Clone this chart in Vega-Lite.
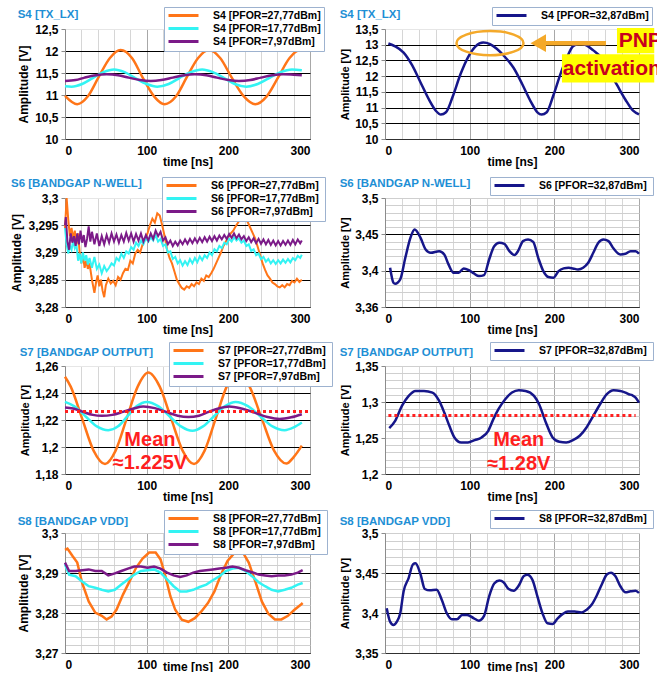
{
"$schema":"https://vega.github.io/schema/vega-lite/v6.json",
"background":"white",
"padding":{"left":10,"top":6,"right":0,"bottom":0},
"config":{
 "font":"Liberation Sans",
 "view":{"stroke":null},
 "axis":{"labelFont":"Liberation Sans","labelFontWeight":"bold","labelFontSize":12,"labelColor":"#000000","titleFont":"Liberation Sans","titleFontWeight":"bold","titleFontSize":12,"titleColor":"#000000","gridWidth":1,"domainColor":"#8c8c8c","tickColor":"#8c8c8c","labelOverlap":false},
 "axisY":{"tickSize":4,"labelPadding":3,"titlePadding":4},
 "legend":{"fillColor":"#ffffff","strokeColor":"#9db2cf","padding":3,"symbolType":"M-3.75,0L3.75,0","symbolSize":64,"symbolStrokeWidth":3,"symbolOffset":11,"labelOffset":24,"labelFont":"Liberation Sans","labelFontSize":10.5,"labelFontWeight":"bold","labelColor":"#000000","rowPadding":0,"labelLimit":300},
 "title":{"font":"Liberation Sans","fontSize":11.5,"fontWeight":"bold","color":"#1e8fd5","anchor":"start","frame":"bounds"}
},
"datasets":{
"p1":[
{"t":0,"v":10.98,"s":"27,77"},{"t":15,"v":10.79,"s":"27,77"},{"t":28,"v":10.97,"s":"27,77"},{"t":41,"v":11.40,"s":"27,77"},{"t":55,"v":11.84,"s":"27,77"},{"t":68,"v":12.02,"s":"27,77"},{"t":82,"v":11.84,"s":"27,77"},{"t":95,"v":11.40,"s":"27,77"},{"t":109,"v":10.97,"s":"27,77"},{"t":122,"v":10.79,"s":"27,77"},{"t":136,"v":10.97,"s":"27,77"},{"t":149,"v":11.40,"s":"27,77"},{"t":163,"v":11.84,"s":"27,77"},{"t":176,"v":12.02,"s":"27,77"},{"t":190,"v":11.84,"s":"27,77"},{"t":204,"v":11.40,"s":"27,77"},{"t":219,"v":10.97,"s":"27,77"},{"t":233,"v":10.79,"s":"27,77"},{"t":247,"v":10.97,"s":"27,77"},{"t":261,"v":11.40,"s":"27,77"},{"t":275,"v":11.84,"s":"27,77"},{"t":288,"v":12.02,"s":"27,77"},{"t":290,"v":12.02,"s":"27,77"},
{"t":0,"v":11.20,"s":"17,77"},{"t":8,"v":11.19,"s":"17,77"},{"t":21,"v":11.25,"s":"17,77"},{"t":34,"v":11.385,"s":"17,77"},{"t":47,"v":11.52,"s":"17,77"},{"t":60,"v":11.58,"s":"17,77"},{"t":73,"v":11.52,"s":"17,77"},{"t":86,"v":11.385,"s":"17,77"},{"t":100,"v":11.25,"s":"17,77"},{"t":113,"v":11.19,"s":"17,77"},{"t":127,"v":11.25,"s":"17,77"},{"t":140,"v":11.385,"s":"17,77"},{"t":154,"v":11.52,"s":"17,77"},{"t":168,"v":11.58,"s":"17,77"},{"t":181,"v":11.52,"s":"17,77"},{"t":195,"v":11.385,"s":"17,77"},{"t":208,"v":11.25,"s":"17,77"},{"t":222,"v":11.19,"s":"17,77"},{"t":236,"v":11.25,"s":"17,77"},{"t":250,"v":11.385,"s":"17,77"},{"t":264,"v":11.52,"s":"17,77"},{"t":278,"v":11.58,"s":"17,77"},{"t":290,"v":11.56,"s":"17,77"},
{"t":0,"v":11.32,"s":"7,97"},{"t":13,"v":11.34,"s":"7,97"},{"t":24,"v":11.395,"s":"7,97"},{"t":38,"v":11.45,"s":"7,97"},{"t":51,"v":11.47,"s":"7,97"},{"t":65,"v":11.45,"s":"7,97"},{"t":78,"v":11.395,"s":"7,97"},{"t":92,"v":11.34,"s":"7,97"},{"t":105,"v":11.32,"s":"7,97"},{"t":118,"v":11.34,"s":"7,97"},{"t":132,"v":11.395,"s":"7,97"},{"t":146,"v":11.45,"s":"7,97"},{"t":159,"v":11.47,"s":"7,97"},{"t":173,"v":11.45,"s":"7,97"},{"t":186,"v":11.395,"s":"7,97"},{"t":200,"v":11.34,"s":"7,97"},{"t":213,"v":11.32,"s":"7,97"},{"t":227,"v":11.34,"s":"7,97"},{"t":240,"v":11.395,"s":"7,97"},{"t":254,"v":11.45,"s":"7,97"},{"t":267,"v":11.47,"s":"7,97"},{"t":280,"v":11.46,"s":"7,97"},{"t":290,"v":11.45,"s":"7,97"}
],
"p2":[
{"t":4,"v":13.04,"s":"32,87"},{"t":12,"v":12.95,"s":"32,87"},{"t":22,"v":12.75,"s":"32,87"},{"t":32,"v":12.35,"s":"32,87"},{"t":42,"v":11.8,"s":"32,87"},{"t":52,"v":11.25,"s":"32,87"},{"t":60,"v":10.9,"s":"32,87"},{"t":66,"v":10.78,"s":"32,87"},{"t":72,"v":10.85,"s":"32,87"},{"t":80,"v":11.35,"s":"32,87"},{"t":89,"v":12.05,"s":"32,87"},{"t":98,"v":12.6,"s":"32,87"},{"t":107,"v":12.95,"s":"32,87"},{"t":116,"v":13.07,"s":"32,87"},{"t":124,"v":13.02,"s":"32,87"},{"t":132,"v":12.87,"s":"32,87"},{"t":142,"v":12.6,"s":"32,87"},{"t":152,"v":12.26,"s":"32,87"},{"t":162,"v":11.75,"s":"32,87"},{"t":172,"v":11.2,"s":"32,87"},{"t":180,"v":10.85,"s":"32,87"},{"t":185,"v":10.78,"s":"32,87"},{"t":191,"v":10.85,"s":"32,87"},{"t":199,"v":11.4,"s":"32,87"},{"t":207,"v":12.05,"s":"32,87"},{"t":215,"v":12.6,"s":"32,87"},{"t":222,"v":12.95,"s":"32,87"},{"t":230,"v":13.04,"s":"32,87"},{"t":238,"v":12.98,"s":"32,87"},{"t":246,"v":12.82,"s":"32,87"},{"t":255,"v":12.6,"s":"32,87"},{"t":264,"v":12.2,"s":"32,87"},{"t":274,"v":11.72,"s":"32,87"},{"t":284,"v":11.25,"s":"32,87"},{"t":293,"v":10.9,"s":"32,87"},{"t":300,"v":10.78,"s":"32,87"}
],
"p3":[
{"t":0,"v":3.2945,"s":"27,77"},{"t":2,"v":3.3003,"s":"27,77"},{"t":4,"v":3.2960,"s":"27,77"},{"t":6,"v":3.2930,"s":"27,77"},{"t":8,"v":3.2945,"s":"27,77"},{"t":10,"v":3.2925,"s":"27,77"},{"t":12,"v":3.2940,"s":"27,77"},{"t":14,"v":3.2915,"s":"27,77"},{"t":16,"v":3.2935,"s":"27,77"},{"t":18,"v":3.2900,"s":"27,77"},{"t":20,"v":3.2880,"s":"27,77"},{"t":22,"v":3.2895,"s":"27,77"},{"t":24,"v":3.2872,"s":"27,77"},{"t":26,"v":3.2885,"s":"27,77"},{"t":28,"v":3.2870,"s":"27,77"},{"t":30,"v":3.2880,"s":"27,77"},{"t":33,"v":3.2850,"s":"27,77"},{"t":36,"v":3.2826,"s":"27,77"},{"t":38,"v":3.2845,"s":"27,77"},{"t":40,"v":3.2858,"s":"27,77"},{"t":42,"v":3.2838,"s":"27,77"},{"t":44,"v":3.2850,"s":"27,77"},{"t":46,"v":3.2830,"s":"27,77"},{"t":48,"v":3.2818,"s":"27,77"},{"t":50,"v":3.2840,"s":"27,77"},{"t":53,"v":3.2852,"s":"27,77"},{"t":56,"v":3.2843,"s":"27,77"},{"t":59,"v":3.2848,"s":"27,77"},{"t":62,"v":3.2840,"s":"27,77"},{"t":65,"v":3.2855,"s":"27,77"},{"t":68,"v":3.2850,"s":"27,77"},{"t":71,"v":3.2862,"s":"27,77"},{"t":74,"v":3.2870,"s":"27,77"},{"t":77,"v":3.2868,"s":"27,77"},{"t":80,"v":3.2885,"s":"27,77"},{"t":83,"v":3.2880,"s":"27,77"},{"t":86,"v":3.2898,"s":"27,77"},{"t":89,"v":3.2905,"s":"27,77"},{"t":92,"v":3.2900,"s":"27,77"},{"t":95,"v":3.2915,"s":"27,77"},{"t":98,"v":3.2925,"s":"27,77"},{"t":101,"v":3.2935,"s":"27,77"},{"t":104,"v":3.2950,"s":"27,77"},{"t":107,"v":3.2962,"s":"27,77"},{"t":110,"v":3.2955,"s":"27,77"},{"t":113,"v":3.2972,"s":"27,77"},{"t":116,"v":3.2968,"s":"27,77"},{"t":119,"v":3.2950,"s":"27,77"},{"t":122,"v":3.2930,"s":"27,77"},{"t":125,"v":3.2905,"s":"27,77"},{"t":128,"v":3.2890,"s":"27,77"},{"t":131,"v":3.2880,"s":"27,77"},{"t":134,"v":3.2865,"s":"27,77"},{"t":137,"v":3.2850,"s":"27,77"},{"t":140,"v":3.2842,"s":"27,77"},{"t":143,"v":3.2835,"s":"27,77"},{"t":146,"v":3.2832,"s":"27,77"},{"t":149,"v":3.2838,"s":"27,77"},{"t":152,"v":3.2835,"s":"27,77"},{"t":155,"v":3.2842,"s":"27,77"},{"t":158,"v":3.2838,"s":"27,77"},{"t":161,"v":3.2845,"s":"27,77"},{"t":164,"v":3.2842,"s":"27,77"},{"t":167,"v":3.2852,"s":"27,77"},{"t":170,"v":3.2848,"s":"27,77"},{"t":173,"v":3.2858,"s":"27,77"},{"t":176,"v":3.2855,"s":"27,77"},{"t":179,"v":3.2862,"s":"27,77"},{"t":182,"v":3.2870,"s":"27,77"},{"t":185,"v":3.2880,"s":"27,77"},{"t":188,"v":3.2890,"s":"27,77"},{"t":191,"v":3.2900,"s":"27,77"},{"t":194,"v":3.2912,"s":"27,77"},{"t":197,"v":3.2920,"s":"27,77"},{"t":200,"v":3.2928,"s":"27,77"},{"t":203,"v":3.2935,"s":"27,77"},{"t":206,"v":3.2940,"s":"27,77"},{"t":209,"v":3.2948,"s":"27,77"},{"t":212,"v":3.2955,"s":"27,77"},{"t":215,"v":3.2962,"s":"27,77"},{"t":218,"v":3.2972,"s":"27,77"},{"t":221,"v":3.2962,"s":"27,77"},{"t":224,"v":3.2955,"s":"27,77"},{"t":227,"v":3.2945,"s":"27,77"},{"t":230,"v":3.2935,"s":"27,77"},{"t":233,"v":3.2925,"s":"27,77"},{"t":236,"v":3.2910,"s":"27,77"},{"t":239,"v":3.2895,"s":"27,77"},{"t":242,"v":3.2880,"s":"27,77"},{"t":245,"v":3.2868,"s":"27,77"},{"t":248,"v":3.2858,"s":"27,77"},{"t":251,"v":3.2852,"s":"27,77"},{"t":254,"v":3.2845,"s":"27,77"},{"t":257,"v":3.2842,"s":"27,77"},{"t":260,"v":3.2838,"s":"27,77"},{"t":263,"v":3.2836,"s":"27,77"},{"t":266,"v":3.2840,"s":"27,77"},{"t":269,"v":3.2836,"s":"27,77"},{"t":272,"v":3.2842,"s":"27,77"},{"t":275,"v":3.2840,"s":"27,77"},{"t":278,"v":3.2848,"s":"27,77"},{"t":281,"v":3.2845,"s":"27,77"},{"t":284,"v":3.2852,"s":"27,77"},{"t":287,"v":3.2846,"s":"27,77"},{"t":290,"v":3.2850,"s":"27,77"},
{"t":0,"v":3.2945,"s":"17,77"},{"t":2,"v":3.2915,"s":"17,77"},{"t":4,"v":3.2898,"s":"17,77"},{"t":6,"v":3.2912,"s":"17,77"},{"t":8,"v":3.2905,"s":"17,77"},{"t":10,"v":3.2922,"s":"17,77"},{"t":12,"v":3.2908,"s":"17,77"},{"t":14,"v":3.2915,"s":"17,77"},{"t":16,"v":3.2885,"s":"17,77"},{"t":18,"v":3.2898,"s":"17,77"},{"t":20,"v":3.2880,"s":"17,77"},{"t":22,"v":3.2900,"s":"17,77"},{"t":24,"v":3.2885,"s":"17,77"},{"t":26,"v":3.2895,"s":"17,77"},{"t":28,"v":3.2878,"s":"17,77"},{"t":30,"v":3.2890,"s":"17,77"},{"t":33,"v":3.2872,"s":"17,77"},{"t":36,"v":3.2892,"s":"17,77"},{"t":39,"v":3.2870,"s":"17,77"},{"t":42,"v":3.2878,"s":"17,77"},{"t":45,"v":3.2862,"s":"17,77"},{"t":48,"v":3.2875,"s":"17,77"},{"t":51,"v":3.2866,"s":"17,77"},{"t":54,"v":3.2872,"s":"17,77"},{"t":57,"v":3.2880,"s":"17,77"},{"t":60,"v":3.2876,"s":"17,77"},{"t":63,"v":3.2890,"s":"17,77"},{"t":66,"v":3.2885,"s":"17,77"},{"t":69,"v":3.2898,"s":"17,77"},{"t":72,"v":3.2890,"s":"17,77"},{"t":75,"v":3.2902,"s":"17,77"},{"t":78,"v":3.2898,"s":"17,77"},{"t":81,"v":3.2910,"s":"17,77"},{"t":84,"v":3.2905,"s":"17,77"},{"t":87,"v":3.2918,"s":"17,77"},{"t":90,"v":3.2912,"s":"17,77"},{"t":93,"v":3.2922,"s":"17,77"},{"t":96,"v":3.2915,"s":"17,77"},{"t":99,"v":3.2926,"s":"17,77"},{"t":102,"v":3.2920,"s":"17,77"},{"t":105,"v":3.2928,"s":"17,77"},{"t":108,"v":3.2922,"s":"17,77"},{"t":111,"v":3.2932,"s":"17,77"},{"t":114,"v":3.2920,"s":"17,77"},{"t":117,"v":3.2925,"s":"17,77"},{"t":120,"v":3.2912,"s":"17,77"},{"t":123,"v":3.2915,"s":"17,77"},{"t":126,"v":3.2900,"s":"17,77"},{"t":129,"v":3.2902,"s":"17,77"},{"t":132,"v":3.2888,"s":"17,77"},{"t":135,"v":3.2892,"s":"17,77"},{"t":138,"v":3.2880,"s":"17,77"},{"t":141,"v":3.2886,"s":"17,77"},{"t":144,"v":3.2876,"s":"17,77"},{"t":147,"v":3.2884,"s":"17,77"},{"t":150,"v":3.2877,"s":"17,77"},{"t":153,"v":3.2888,"s":"17,77"},{"t":156,"v":3.2880,"s":"17,77"},{"t":159,"v":3.2890,"s":"17,77"},{"t":162,"v":3.2882,"s":"17,77"},{"t":165,"v":3.2893,"s":"17,77"},{"t":168,"v":3.2886,"s":"17,77"},{"t":171,"v":3.2895,"s":"17,77"},{"t":174,"v":3.2890,"s":"17,77"},{"t":177,"v":3.2900,"s":"17,77"},{"t":180,"v":3.2895,"s":"17,77"},{"t":183,"v":3.2906,"s":"17,77"},{"t":186,"v":3.2902,"s":"17,77"},{"t":189,"v":3.2912,"s":"17,77"},{"t":192,"v":3.2908,"s":"17,77"},{"t":195,"v":3.2918,"s":"17,77"},{"t":198,"v":3.2915,"s":"17,77"},{"t":201,"v":3.2925,"s":"17,77"},{"t":204,"v":3.2920,"s":"17,77"},{"t":207,"v":3.2928,"s":"17,77"},{"t":210,"v":3.2922,"s":"17,77"},{"t":213,"v":3.2926,"s":"17,77"},{"t":216,"v":3.2918,"s":"17,77"},{"t":219,"v":3.2922,"s":"17,77"},{"t":222,"v":3.2912,"s":"17,77"},{"t":225,"v":3.2915,"s":"17,77"},{"t":228,"v":3.2903,"s":"17,77"},{"t":231,"v":3.2906,"s":"17,77"},{"t":234,"v":3.2895,"s":"17,77"},{"t":237,"v":3.2898,"s":"17,77"},{"t":240,"v":3.2888,"s":"17,77"},{"t":243,"v":3.2892,"s":"17,77"},{"t":246,"v":3.2883,"s":"17,77"},{"t":249,"v":3.2888,"s":"17,77"},{"t":252,"v":3.2880,"s":"17,77"},{"t":255,"v":3.2886,"s":"17,77"},{"t":258,"v":3.2879,"s":"17,77"},{"t":261,"v":3.2886,"s":"17,77"},{"t":264,"v":3.2880,"s":"17,77"},{"t":267,"v":3.2887,"s":"17,77"},{"t":270,"v":3.2881,"s":"17,77"},{"t":273,"v":3.2888,"s":"17,77"},{"t":276,"v":3.2882,"s":"17,77"},{"t":279,"v":3.2890,"s":"17,77"},{"t":282,"v":3.2886,"s":"17,77"},{"t":285,"v":3.2894,"s":"17,77"},{"t":288,"v":3.2890,"s":"17,77"},{"t":290,"v":3.2896,"s":"17,77"},
{"t":0,"v":3.2950,"s":"7,97"},{"t":1,"v":3.2965,"s":"7,97"},{"t":3,"v":3.2920,"s":"7,97"},{"t":5,"v":3.2905,"s":"7,97"},{"t":7,"v":3.2935,"s":"7,97"},{"t":9,"v":3.2918,"s":"7,97"},{"t":11,"v":3.2930,"s":"7,97"},{"t":13,"v":3.2912,"s":"7,97"},{"t":15,"v":3.2935,"s":"7,97"},{"t":17,"v":3.2915,"s":"7,97"},{"t":19,"v":3.2940,"s":"7,97"},{"t":21,"v":3.2918,"s":"7,97"},{"t":23,"v":3.2932,"s":"7,97"},{"t":25,"v":3.2910,"s":"7,97"},{"t":27,"v":3.2925,"s":"7,97"},{"t":29,"v":3.2948,"s":"7,97"},{"t":31,"v":3.2920,"s":"7,97"},{"t":33,"v":3.2938,"s":"7,97"},{"t":36,"v":3.2915,"s":"7,97"},{"t":39,"v":3.2935,"s":"7,97"},{"t":42,"v":3.2912,"s":"7,97"},{"t":45,"v":3.2930,"s":"7,97"},{"t":48,"v":3.2915,"s":"7,97"},{"t":51,"v":3.2932,"s":"7,97"},{"t":54,"v":3.2918,"s":"7,97"},{"t":57,"v":3.2935,"s":"7,97"},{"t":60,"v":3.2920,"s":"7,97"},{"t":63,"v":3.2933,"s":"7,97"},{"t":66,"v":3.2918,"s":"7,97"},{"t":69,"v":3.2932,"s":"7,97"},{"t":72,"v":3.2920,"s":"7,97"},{"t":75,"v":3.2936,"s":"7,97"},{"t":78,"v":3.2922,"s":"7,97"},{"t":81,"v":3.2935,"s":"7,97"},{"t":84,"v":3.2920,"s":"7,97"},{"t":87,"v":3.2934,"s":"7,97"},{"t":90,"v":3.2922,"s":"7,97"},{"t":93,"v":3.2935,"s":"7,97"},{"t":96,"v":3.2920,"s":"7,97"},{"t":99,"v":3.2932,"s":"7,97"},{"t":102,"v":3.2922,"s":"7,97"},{"t":105,"v":3.2935,"s":"7,97"},{"t":108,"v":3.2925,"s":"7,97"},{"t":111,"v":3.2940,"s":"7,97"},{"t":114,"v":3.2930,"s":"7,97"},{"t":117,"v":3.2938,"s":"7,97"},{"t":120,"v":3.2922,"s":"7,97"},{"t":123,"v":3.2928,"s":"7,97"},{"t":126,"v":3.2915,"s":"7,97"},{"t":129,"v":3.2922,"s":"7,97"},{"t":132,"v":3.2912,"s":"7,97"},{"t":135,"v":3.2920,"s":"7,97"},{"t":138,"v":3.2913,"s":"7,97"},{"t":141,"v":3.2922,"s":"7,97"},{"t":144,"v":3.2915,"s":"7,97"},{"t":147,"v":3.2924,"s":"7,97"},{"t":150,"v":3.2916,"s":"7,97"},{"t":153,"v":3.2925,"s":"7,97"},{"t":156,"v":3.2917,"s":"7,97"},{"t":159,"v":3.2926,"s":"7,97"},{"t":162,"v":3.2918,"s":"7,97"},{"t":165,"v":3.2927,"s":"7,97"},{"t":168,"v":3.2919,"s":"7,97"},{"t":171,"v":3.2928,"s":"7,97"},{"t":174,"v":3.2920,"s":"7,97"},{"t":177,"v":3.2929,"s":"7,97"},{"t":180,"v":3.2921,"s":"7,97"},{"t":183,"v":3.2930,"s":"7,97"},{"t":186,"v":3.2922,"s":"7,97"},{"t":189,"v":3.2931,"s":"7,97"},{"t":192,"v":3.2924,"s":"7,97"},{"t":195,"v":3.2932,"s":"7,97"},{"t":198,"v":3.2925,"s":"7,97"},{"t":201,"v":3.2934,"s":"7,97"},{"t":204,"v":3.2927,"s":"7,97"},{"t":207,"v":3.2935,"s":"7,97"},{"t":210,"v":3.2926,"s":"7,97"},{"t":213,"v":3.2933,"s":"7,97"},{"t":216,"v":3.2924,"s":"7,97"},{"t":219,"v":3.2930,"s":"7,97"},{"t":222,"v":3.2921,"s":"7,97"},{"t":225,"v":3.2928,"s":"7,97"},{"t":228,"v":3.2919,"s":"7,97"},{"t":231,"v":3.2926,"s":"7,97"},{"t":234,"v":3.2917,"s":"7,97"},{"t":237,"v":3.2925,"s":"7,97"},{"t":240,"v":3.2916,"s":"7,97"},{"t":243,"v":3.2924,"s":"7,97"},{"t":246,"v":3.2915,"s":"7,97"},{"t":249,"v":3.2923,"s":"7,97"},{"t":252,"v":3.2914,"s":"7,97"},{"t":255,"v":3.2922,"s":"7,97"},{"t":258,"v":3.2913,"s":"7,97"},{"t":261,"v":3.2921,"s":"7,97"},{"t":264,"v":3.2913,"s":"7,97"},{"t":267,"v":3.2921,"s":"7,97"},{"t":270,"v":3.2914,"s":"7,97"},{"t":273,"v":3.2922,"s":"7,97"},{"t":276,"v":3.2914,"s":"7,97"},{"t":279,"v":3.2923,"s":"7,97"},{"t":282,"v":3.2915,"s":"7,97"},{"t":285,"v":3.2924,"s":"7,97"},{"t":288,"v":3.2917,"s":"7,97"},{"t":290,"v":3.2922,"s":"7,97"}
],
"p4":[
{"t":6,"v":3.404,"s":"32,87"},{"t":10,"v":3.3834,"s":"32,87"},{"t":12,"v":3.382,"s":"32,87"},{"t":18,"v":3.388,"s":"32,87"},{"t":24,"v":3.4177,"s":"32,87"},{"t":30,"v":3.4451,"s":"32,87"},{"t":35,"v":3.4566,"s":"32,87"},{"t":42,"v":3.4451,"s":"32,87"},{"t":48,"v":3.4291,"s":"32,87"},{"t":54,"v":3.4246,"s":"32,87"},{"t":64,"v":3.4268,"s":"32,87"},{"t":70,"v":3.4223,"s":"32,87"},{"t":75,"v":3.4086,"s":"32,87"},{"t":81,"v":3.3971,"s":"32,87"},{"t":87,"v":3.3971,"s":"32,87"},{"t":93,"v":3.4031,"s":"32,87"},{"t":99,"v":3.4008,"s":"32,87"},{"t":105,"v":3.3962,"s":"32,87"},{"t":111,"v":3.3925,"s":"32,87"},{"t":117,"v":3.3939,"s":"32,87"},{"t":123,"v":3.4154,"s":"32,87"},{"t":129,"v":3.4337,"s":"32,87"},{"t":135,"v":3.4383,"s":"32,87"},{"t":141,"v":3.4369,"s":"32,87"},{"t":147,"v":3.4268,"s":"32,87"},{"t":153,"v":3.4214,"s":"32,87"},{"t":157,"v":3.4268,"s":"32,87"},{"t":163,"v":3.4406,"s":"32,87"},{"t":169,"v":3.4428,"s":"32,87"},{"t":175,"v":3.4396,"s":"32,87"},{"t":181,"v":3.4177,"s":"32,87"},{"t":187,"v":3.3994,"s":"32,87"},{"t":193,"v":3.3912,"s":"32,87"},{"t":199,"v":3.3903,"s":"32,87"},{"t":205,"v":3.3994,"s":"32,87"},{"t":211,"v":3.4031,"s":"32,87"},{"t":217,"v":3.404,"s":"32,87"},{"t":222,"v":3.4031,"s":"32,87"},{"t":228,"v":3.4017,"s":"32,87"},{"t":234,"v":3.404,"s":"32,87"},{"t":240,"v":3.4108,"s":"32,87"},{"t":246,"v":3.4246,"s":"32,87"},{"t":252,"v":3.4383,"s":"32,87"},{"t":258,"v":3.4428,"s":"32,87"},{"t":264,"v":3.4406,"s":"32,87"},{"t":270,"v":3.4305,"s":"32,87"},{"t":278,"v":3.4223,"s":"32,87"},{"t":284,"v":3.4232,"s":"32,87"},{"t":290,"v":3.4268,"s":"32,87"},{"t":296,"v":3.4268,"s":"32,87"},{"t":300,"v":3.4232,"s":"32,87"}
],
"p5":[
{"t":0,"v":1.252,"s":"27,77"},{"t":7,"v":1.2447,"s":"27,77"},{"t":21,"v":1.221,"s":"27,77"},{"t":35,"v":1.1973,"s":"27,77"},{"t":49,"v":1.1874,"s":"27,77"},{"t":62,"v":1.1973,"s":"27,77"},{"t":75.5,"v":1.221,"s":"27,77"},{"t":89,"v":1.2447,"s":"27,77"},{"t":102,"v":1.2551,"s":"27,77"},{"t":116,"v":1.2447,"s":"27,77"},{"t":130,"v":1.221,"s":"27,77"},{"t":144,"v":1.1973,"s":"27,77"},{"t":158,"v":1.1874,"s":"27,77"},{"t":171,"v":1.1973,"s":"27,77"},{"t":184.5,"v":1.221,"s":"27,77"},{"t":198,"v":1.2447,"s":"27,77"},{"t":211,"v":1.2551,"s":"27,77"},{"t":226,"v":1.2447,"s":"27,77"},{"t":241,"v":1.221,"s":"27,77"},{"t":256,"v":1.1973,"s":"27,77"},{"t":271,"v":1.1877,"s":"27,77"},{"t":280,"v":1.1925,"s":"27,77"},{"t":290,"v":1.201,"s":"27,77"},
{"t":0,"v":1.2334,"s":"17,77"},{"t":11,"v":1.2303,"s":"17,77"},{"t":25,"v":1.2228,"s":"17,77"},{"t":39,"v":1.2153,"s":"17,77"},{"t":53,"v":1.2125,"s":"17,77"},{"t":65,"v":1.2153,"s":"17,77"},{"t":76.5,"v":1.2228,"s":"17,77"},{"t":88,"v":1.2303,"s":"17,77"},{"t":100,"v":1.2334,"s":"17,77"},{"t":114,"v":1.2303,"s":"17,77"},{"t":128,"v":1.2228,"s":"17,77"},{"t":142,"v":1.2153,"s":"17,77"},{"t":156,"v":1.212,"s":"17,77"},{"t":169,"v":1.2153,"s":"17,77"},{"t":182.5,"v":1.2228,"s":"17,77"},{"t":196,"v":1.2303,"s":"17,77"},{"t":209,"v":1.2334,"s":"17,77"},{"t":224,"v":1.2303,"s":"17,77"},{"t":239,"v":1.2228,"s":"17,77"},{"t":254,"v":1.2153,"s":"17,77"},{"t":269,"v":1.2125,"s":"17,77"},{"t":280,"v":1.2145,"s":"17,77"},{"t":290,"v":1.2181,"s":"17,77"},
{"t":0,"v":1.2292,"s":"7,97"},{"t":10,"v":1.2285,"s":"7,97"},{"t":22,"v":1.226,"s":"7,97"},{"t":34,"v":1.2238,"s":"7,97"},{"t":45,"v":1.2231,"s":"7,97"},{"t":58,"v":1.2238,"s":"7,97"},{"t":71,"v":1.226,"s":"7,97"},{"t":84,"v":1.2285,"s":"7,97"},{"t":96,"v":1.23,"s":"7,97"},{"t":110,"v":1.2288,"s":"7,97"},{"t":124,"v":1.226,"s":"7,97"},{"t":138,"v":1.2232,"s":"7,97"},{"t":151,"v":1.2222,"s":"7,97"},{"t":164,"v":1.2232,"s":"7,97"},{"t":176,"v":1.226,"s":"7,97"},{"t":189,"v":1.2287,"s":"7,97"},{"t":201,"v":1.23,"s":"7,97"},{"t":216,"v":1.2285,"s":"7,97"},{"t":232,"v":1.2255,"s":"7,97"},{"t":248,"v":1.2222,"s":"7,97"},{"t":263,"v":1.2208,"s":"7,97"},{"t":277,"v":1.222,"s":"7,97"},{"t":290,"v":1.2243,"s":"7,97"}
],
"p6":[
{"t":5,"v":1.2637,"s":"32,87"},{"t":12,"v":1.2739,"s":"32,87"},{"t":20,"v":1.2946,"s":"32,87"},{"t":28,"v":1.3085,"s":"32,87"},{"t":36,"v":1.3154,"s":"32,87"},{"t":46,"v":1.3154,"s":"32,87"},{"t":56,"v":1.3131,"s":"32,87"},{"t":64,"v":1.3015,"s":"32,87"},{"t":70,"v":1.2854,"s":"32,87"},{"t":76,"v":1.2669,"s":"32,87"},{"t":82,"v":1.2508,"s":"32,87"},{"t":90,"v":1.2439,"s":"32,87"},{"t":98,"v":1.2439,"s":"32,87"},{"t":106,"v":1.2471,"s":"32,87"},{"t":114,"v":1.2508,"s":"32,87"},{"t":122,"v":1.26,"s":"32,87"},{"t":128,"v":1.2762,"s":"32,87"},{"t":134,"v":1.29,"s":"32,87"},{"t":142,"v":1.3039,"s":"32,87"},{"t":150,"v":1.3131,"s":"32,87"},{"t":158,"v":1.3163,"s":"32,87"},{"t":166,"v":1.3154,"s":"32,87"},{"t":176,"v":1.3085,"s":"32,87"},{"t":182,"v":1.2969,"s":"32,87"},{"t":190,"v":1.2715,"s":"32,87"},{"t":198,"v":1.2508,"s":"32,87"},{"t":206,"v":1.2448,"s":"32,87"},{"t":214,"v":1.2439,"s":"32,87"},{"t":222,"v":1.2471,"s":"32,87"},{"t":230,"v":1.2531,"s":"32,87"},{"t":238,"v":1.2646,"s":"32,87"},{"t":246,"v":1.2808,"s":"32,87"},{"t":254,"v":1.2969,"s":"32,87"},{"t":262,"v":1.3108,"s":"32,87"},{"t":270,"v":1.3163,"s":"32,87"},{"t":278,"v":1.3154,"s":"32,87"},{"t":284,"v":1.3131,"s":"32,87"},{"t":288,"v":1.3108,"s":"32,87"},{"t":292,"v":1.3094,"s":"32,87"},{"t":296,"v":1.3062,"s":"32,87"},{"t":300,"v":1.2992,"s":"32,87"}
],
"p7":[
{"t":0,"v":3.2958,"s":"27,77"},{"t":3,"v":3.2961,"s":"27,77"},{"t":9,"v":3.2943,"s":"27,77"},{"t":15,"v":3.2926,"s":"27,77"},{"t":21,"v":3.2875,"s":"27,77"},{"t":29,"v":3.2829,"s":"27,77"},{"t":37,"v":3.2801,"s":"27,77"},{"t":45,"v":3.2793,"s":"27,77"},{"t":51,"v":3.2784,"s":"27,77"},{"t":57,"v":3.2791,"s":"27,77"},{"t":63,"v":3.2808,"s":"27,77"},{"t":71,"v":3.2846,"s":"27,77"},{"t":79,"v":3.2879,"s":"27,77"},{"t":87,"v":3.2913,"s":"27,77"},{"t":95,"v":3.2936,"s":"27,77"},{"t":103,"v":3.2951,"s":"27,77"},{"t":111,"v":3.2951,"s":"27,77"},{"t":117,"v":3.2934,"s":"27,77"},{"t":123,"v":3.2892,"s":"27,77"},{"t":129,"v":3.2842,"s":"27,77"},{"t":135,"v":3.2808,"s":"27,77"},{"t":143,"v":3.2783,"s":"27,77"},{"t":151,"v":3.2778,"s":"27,77"},{"t":159,"v":3.2787,"s":"27,77"},{"t":167,"v":3.2804,"s":"27,77"},{"t":175,"v":3.2825,"s":"27,77"},{"t":183,"v":3.2854,"s":"27,77"},{"t":191,"v":3.2896,"s":"27,77"},{"t":199,"v":3.293,"s":"27,77"},{"t":207,"v":3.2949,"s":"27,77"},{"t":213,"v":3.2953,"s":"27,77"},{"t":219,"v":3.2947,"s":"27,77"},{"t":225,"v":3.2926,"s":"27,77"},{"t":233,"v":3.2879,"s":"27,77"},{"t":241,"v":3.2829,"s":"27,77"},{"t":249,"v":3.2798,"s":"27,77"},{"t":257,"v":3.2784,"s":"27,77"},{"t":265,"v":3.2784,"s":"27,77"},{"t":273,"v":3.2793,"s":"27,77"},{"t":281,"v":3.2808,"s":"27,77"},{"t":289,"v":3.2821,"s":"27,77"},{"t":291,"v":3.2825,"s":"27,77"},
{"t":0,"v":3.2922,"s":"17,77"},{"t":5,"v":3.2896,"s":"17,77"},{"t":13,"v":3.2892,"s":"17,77"},{"t":21,"v":3.2879,"s":"17,77"},{"t":29,"v":3.2867,"s":"17,77"},{"t":37,"v":3.2863,"s":"17,77"},{"t":45,"v":3.2858,"s":"17,77"},{"t":53,"v":3.2854,"s":"17,77"},{"t":61,"v":3.2858,"s":"17,77"},{"t":69,"v":3.2871,"s":"17,77"},{"t":77,"v":3.2884,"s":"17,77"},{"t":85,"v":3.2896,"s":"17,77"},{"t":93,"v":3.2905,"s":"17,77"},{"t":101,"v":3.2907,"s":"17,77"},{"t":109,"v":3.2909,"s":"17,77"},{"t":117,"v":3.2901,"s":"17,77"},{"t":125,"v":3.2884,"s":"17,77"},{"t":133,"v":3.2867,"s":"17,77"},{"t":141,"v":3.2854,"s":"17,77"},{"t":149,"v":3.2854,"s":"17,77"},{"t":157,"v":3.2858,"s":"17,77"},{"t":165,"v":3.2865,"s":"17,77"},{"t":173,"v":3.2871,"s":"17,77"},{"t":181,"v":3.2882,"s":"17,77"},{"t":189,"v":3.2892,"s":"17,77"},{"t":197,"v":3.2905,"s":"17,77"},{"t":205,"v":3.2911,"s":"17,77"},{"t":213,"v":3.2913,"s":"17,77"},{"t":221,"v":3.2905,"s":"17,77"},{"t":229,"v":3.2892,"s":"17,77"},{"t":237,"v":3.2877,"s":"17,77"},{"t":245,"v":3.2867,"s":"17,77"},{"t":253,"v":3.2858,"s":"17,77"},{"t":261,"v":3.2854,"s":"17,77"},{"t":269,"v":3.2858,"s":"17,77"},{"t":277,"v":3.2863,"s":"17,77"},{"t":285,"v":3.2871,"s":"17,77"},{"t":291,"v":3.2875,"s":"17,77"},
{"t":0,"v":3.2926,"s":"7,97"},{"t":5,"v":3.2905,"s":"7,97"},{"t":13,"v":3.2905,"s":"7,97"},{"t":21,"v":3.2907,"s":"7,97"},{"t":29,"v":3.2909,"s":"7,97"},{"t":37,"v":3.2905,"s":"7,97"},{"t":45,"v":3.2905,"s":"7,97"},{"t":53,"v":3.2894,"s":"7,97"},{"t":61,"v":3.2899,"s":"7,97"},{"t":69,"v":3.2905,"s":"7,97"},{"t":77,"v":3.2911,"s":"7,97"},{"t":85,"v":3.2916,"s":"7,97"},{"t":93,"v":3.2916,"s":"7,97"},{"t":101,"v":3.2913,"s":"7,97"},{"t":109,"v":3.2916,"s":"7,97"},{"t":117,"v":3.2911,"s":"7,97"},{"t":125,"v":3.2901,"s":"7,97"},{"t":133,"v":3.2894,"s":"7,97"},{"t":141,"v":3.289,"s":"7,97"},{"t":149,"v":3.2894,"s":"7,97"},{"t":157,"v":3.2901,"s":"7,97"},{"t":165,"v":3.2905,"s":"7,97"},{"t":173,"v":3.2907,"s":"7,97"},{"t":181,"v":3.2909,"s":"7,97"},{"t":189,"v":3.2911,"s":"7,97"},{"t":197,"v":3.2913,"s":"7,97"},{"t":205,"v":3.2916,"s":"7,97"},{"t":213,"v":3.2913,"s":"7,97"},{"t":221,"v":3.2907,"s":"7,97"},{"t":229,"v":3.2902,"s":"7,97"},{"t":237,"v":3.2896,"s":"7,97"},{"t":245,"v":3.2894,"s":"7,97"},{"t":253,"v":3.2892,"s":"7,97"},{"t":261,"v":3.2894,"s":"7,97"},{"t":269,"v":3.2894,"s":"7,97"},{"t":277,"v":3.2896,"s":"7,97"},{"t":285,"v":3.2901,"s":"7,97"},{"t":291,"v":3.2907,"s":"7,97"}
],
"p8":[
{"t":2,"v":3.406,"s":"32,87"},{"t":6,"v":3.3892,"s":"32,87"},{"t":10,"v":3.385,"s":"32,87"},{"t":14,"v":3.3892,"s":"32,87"},{"t":18,"v":3.3997,"s":"32,87"},{"t":22,"v":3.4271,"s":"32,87"},{"t":28,"v":3.444,"s":"32,87"},{"t":33,"v":3.4608,"s":"32,87"},{"t":36,"v":3.4621,"s":"32,87"},{"t":42,"v":3.4482,"s":"32,87"},{"t":47,"v":3.43,"s":"32,87"},{"t":53,"v":3.4283,"s":"32,87"},{"t":61,"v":3.4292,"s":"32,87"},{"t":67,"v":3.4166,"s":"32,87"},{"t":73,"v":3.3997,"s":"32,87"},{"t":79,"v":3.3921,"s":"32,87"},{"t":85,"v":3.3921,"s":"32,87"},{"t":91,"v":3.3976,"s":"32,87"},{"t":97,"v":3.3976,"s":"32,87"},{"t":105,"v":3.3934,"s":"32,87"},{"t":111,"v":3.3904,"s":"32,87"},{"t":117,"v":3.3963,"s":"32,87"},{"t":123,"v":3.4208,"s":"32,87"},{"t":129,"v":3.4368,"s":"32,87"},{"t":135,"v":3.4406,"s":"32,87"},{"t":140,"v":3.4385,"s":"32,87"},{"t":146,"v":3.43,"s":"32,87"},{"t":152,"v":3.4279,"s":"32,87"},{"t":158,"v":3.4343,"s":"32,87"},{"t":164,"v":3.4461,"s":"32,87"},{"t":168,"v":3.4477,"s":"32,87"},{"t":174,"v":3.4418,"s":"32,87"},{"t":180,"v":3.4208,"s":"32,87"},{"t":186,"v":3.3997,"s":"32,87"},{"t":192,"v":3.3871,"s":"32,87"},{"t":198,"v":3.3862,"s":"32,87"},{"t":204,"v":3.3934,"s":"32,87"},{"t":210,"v":3.3989,"s":"32,87"},{"t":216,"v":3.4018,"s":"32,87"},{"t":224,"v":3.4018,"s":"32,87"},{"t":232,"v":3.4006,"s":"32,87"},{"t":238,"v":3.4039,"s":"32,87"},{"t":244,"v":3.4102,"s":"32,87"},{"t":250,"v":3.4216,"s":"32,87"},{"t":256,"v":3.4356,"s":"32,87"},{"t":262,"v":3.4482,"s":"32,87"},{"t":267,"v":3.4503,"s":"32,87"},{"t":272,"v":3.4461,"s":"32,87"},{"t":278,"v":3.4334,"s":"32,87"},{"t":284,"v":3.4258,"s":"32,87"},{"t":290,"v":3.4271,"s":"32,87"},{"t":296,"v":3.4279,"s":"32,87"},{"t":300,"v":3.425,"s":"32,87"}
]
},
"columns":2,
"spacing":{"row":59,"column":75},
"bounds":"flush",
"resolve":{"scale":{"color":"independent"}},
"concat":[
{"width":245,"height":110,"title":{"text":"S4 [TX_LX]","offset":-14},
 "layer":[{"data":{"name":"p1"},"mark":{"type":"line","strokeWidth":2.5,"interpolate":"monotone"},
  "encoding":{
   "x":{"field":"t","type":"quantitative","scale":{"domain":[0,300],"nice":false},"axis":{"title":"time [ns]","values":[0,20,40,60,80,100,120,140,160,180,200,220,240,260,280,300],"labelExpr":"datum.value % 100 === 0 ? datum.label : ''","gridColor":{"condition":{"test":"datum.value % 100 === 0","value":"#a8a8a8"},"value":"#d6d6d6"},"ticks":false,"labelPadding":6,"titlePadding":0,"domainColor":"#303030"}},
   "y":{"field":"v","type":"quantitative","scale":{"domain":[10,12.5],"nice":false,"zero":false},"axis":{"title":"Amplitude [V]","values":[10,10.5,11,11.5,12,12.5],"format":"~g","labelExpr":"replace(datum.label,'.',',')","gridColor":{"condition":{"test":"datum.value === 12.5","value":"#e6e6e6"},"value":"#000000"}}},
   "color":{"field":"s","type":"nominal","scale":{"domain":["27,77","17,77","7,97"],"range":["#ff7518","#33f3f3","#7b1a88"]},"legend":{"title":null,"labelExpr":"'S4 [PFOR=' + datum.label + 'dBm]'","orient":"none","legendX":99,"legendY":-22}}
  }}]},
{"width":254,"height":110,"title":{"text":"S4 [TX_LX]","offset":-14},
 "encoding":{
   "x":{"field":"t","type":"quantitative","scale":{"domain":[0,300],"nice":false},"axis":{"title":"time [ns]","values":[0,20,40,60,80,100,120,140,160,180,200,220,240,260,280,300],"labelExpr":"datum.value % 100 === 0 ? datum.label : ''","gridColor":{"condition":{"test":"datum.value % 100 === 0","value":"#a8a8a8"},"value":"#d6d6d6"},"ticks":false,"labelPadding":6,"titlePadding":0,"domainColor":"#303030"}},
   "y":{"field":"v","type":"quantitative","scale":{"domain":[10,13.5],"nice":false,"zero":false},"axis":{"title":"Amplitude [V]","titleFontSize":11,"values":[10,10.5,11,11.5,12,12.5,13,13.5],"format":"~g","labelExpr":"replace(datum.label,'.',',')","gridColor":{"condition":{"test":"datum.value === 13.5","value":"#e6e6e6"},"value":"#000000"}}}
 },
 "layer":[
  {"data":{"name":"p2"},"mark":{"type":"line","strokeWidth":2.5,"interpolate":"monotone"},
   "encoding":{"color":{"field":"s","type":"nominal","scale":{"domain":["32,87"],"range":["#16168a"]},"legend":{"title":null,"labelExpr":"'S4 [PFOR=' + datum.label + 'dBm]'","orient":"none","legendX":107,"legendY":-22}}}},
  {"data":{"values":[{"t":274,"t2":318,"v":12.73,"v2":13.53},{"t":209,"t2":318,"v":11.8,"v2":12.7}]},"mark":{"type":"rect","color":"#ffff00"},
   "encoding":{"x2":{"field":"t2"},"y2":{"field":"v2"}}},
  {"data":{"values":[{"t":276,"v":13.12,"txt":"PNP"},{"t":210,"v":12.24,"txt":"activation"}]},"mark":{"type":"text","align":"left","baseline":"middle","font":"Liberation Sans","fontWeight":"bold","fontSize":21,"color":"#c8001e"},
   "encoding":{"text":{"field":"txt"}}},
  {"data":{"values":[{"t":124,"v":13.05}]},"mark":{"type":"point","shape":"M-1,0A1,0.36,0,1,1,1,0A1,0.36,0,1,1,-1,0Z","size":4489,"filled":false,"stroke":"#f4a92a","strokeWidth":2.5,"opacity":1}},
  {"data":{"values":[{"t":188,"t2":261,"v":13.05}]},"mark":{"type":"rule","color":"#f4a92a","strokeWidth":4.5},
   "encoding":{"x2":{"field":"t2"}}},
  {"data":{"values":[{"t":181,"v":13.05}]},"mark":{"type":"point","shape":"triangle-left","size":320,"filled":true,"color":"#f4a92a","opacity":1}}
 ]},
{"width":245,"height":109,"title":{"text":"S6 [BANDGAP N-WELL]","offset":-13},
 "layer":[{"data":{"name":"p3"},"mark":{"type":"line","strokeWidth":2},
  "encoding":{
   "x":{"field":"t","type":"quantitative","scale":{"domain":[0,300],"nice":false},"axis":{"title":"time [ns]","values":[0,20,40,60,80,100,120,140,160,180,200,220,240,260,280,300],"labelExpr":"datum.value % 100 === 0 ? datum.label : ''","gridColor":{"condition":{"test":"datum.value % 100 === 0","value":"#a8a8a8"},"value":"#d6d6d6"},"ticks":false,"labelPadding":6,"titlePadding":0,"domainColor":"#303030"}},
   "y":{"field":"v","type":"quantitative","scale":{"domain":[3.28,3.3],"nice":false,"zero":false,"clamp":true},"axis":{"title":"Amplitude [V]","values":[3.28,3.285,3.29,3.295,3.3],"format":"~g","labelExpr":"replace(datum.label,'.',',')","gridColor":{"condition":{"test":"datum.value === 3.3","value":"#e6e6e6"},"value":"#000000"}}},
   "color":{"field":"s","type":"nominal","scale":{"domain":["27,77","17,77","7,97"],"range":["#ff7518","#33f3f3","#7b1a88"]},"legend":{"title":null,"labelExpr":"'S6  [PFOR=' + datum.label + 'dBm]'","orient":"none","legendX":97,"legendY":-21}}
  }}]},
{"width":254,"height":109,"title":{"text":"S6 [BANDGAP N-WELL]","offset":-13},
 "layer":[{"data":{"name":"p4"},"mark":{"type":"line","strokeWidth":2.5,"interpolate":"monotone"},
  "encoding":{
   "x":{"field":"t","type":"quantitative","scale":{"domain":[0,300],"nice":false},"axis":{"title":"time [ns]","values":[0,20,40,60,80,100,120,140,160,180,200,220,240,260,280,300],"labelExpr":"datum.value % 100 === 0 ? datum.label : ''","gridColor":{"condition":{"test":"datum.value % 100 === 0","value":"#a8a8a8"},"value":"#d6d6d6"},"ticks":false,"labelPadding":6,"titlePadding":0,"domainColor":"#303030"}},
   "y":{"field":"v","type":"quantitative","scale":{"domain":[3.35,3.5],"nice":false,"zero":false},"axis":{"title":"Amplitude [V]","titleFontSize":11,"values":[3.35,3.36,3.37,3.38,3.39,3.4,3.41,3.42,3.43,3.44,3.45,3.46,3.47,3.48,3.49,3.5],"format":"~g","labelExpr":"datum.value === 3.35 ? '3,36' : datum.value === 3.4 ? '3,4' : datum.value === 3.45 ? '3,45' : datum.value === 3.5 ? '3,5' : ''","tickOpacity":{"condition":{"test":"indexof([3.35,3.4,3.45,3.5], datum.value) >= 0","value":1},"value":0},"gridColor":{"condition":{"test":"indexof([3.35,3.4,3.45], datum.value) >= 0","value":"#000000"},"value":"#cfcfcf"}}},
   "color":{"field":"s","type":"nominal","scale":{"domain":["32,87"],"range":["#16168a"]},"legend":{"title":null,"labelExpr":"'S6  [PFOR=' + datum.label + 'dBm]'","orient":"none","legendX":105,"legendY":-21}}
  }}]},
{"width":245,"height":108,"title":{"text":"S7 [BANDGAP OUTPUT]","offset":-17},
 "encoding":{
   "x":{"field":"t","type":"quantitative","scale":{"domain":[0,300],"nice":false},"axis":{"title":"time [ns]","values":[0,20,40,60,80,100,120,140,160,180,200,220,240,260,280,300],"labelExpr":"datum.value % 100 === 0 ? datum.label : ''","gridColor":{"condition":{"test":"datum.value % 100 === 0","value":"#a8a8a8"},"value":"#d6d6d6"},"ticks":false,"labelPadding":6,"titlePadding":0,"domainColor":"#303030"}},
   "y":{"field":"v","type":"quantitative","scale":{"domain":[1.18,1.26],"nice":false,"zero":false},"axis":{"title":"Amplitude [V]","titleFontSize":11,"values":[1.18,1.2,1.22,1.24,1.26],"format":"~g","labelExpr":"replace(datum.label,'.',',')","gridColor":{"condition":{"test":"datum.value === 1.26","value":"#e6e6e6"},"value":"#000000"}}}
 },
 "layer":[
  {"data":{"name":"p5"},"mark":{"type":"line","strokeWidth":2.5,"interpolate":"monotone"},
   "encoding":{"color":{"field":"s","type":"nominal","scale":{"domain":["27,77","17,77","7,97"],"range":["#ff7518","#33f3f3","#7b1a88"]},"legend":{"title":null,"labelExpr":"'S7  [PFOR=' + datum.label + 'dBm]'","orient":"none","legendX":104,"legendY":-24}}}},
  {"data":{"values":[{"t":0,"t2":300,"v":1.2263}]},"mark":{"type":"rule","color":"#ff1f1f","strokeWidth":3,"strokeDash":[3,3]},
   "encoding":{"x2":{"field":"t2"}}},
  {"data":{"values":[{"t":104,"v":1.2052,"txt":"Mean"},{"t":104,"v":1.1882,"txt":"≈1.225V"}]},"mark":{"type":"text","align":"center","baseline":"middle","font":"Liberation Sans","fontWeight":"bold","fontSize":20,"color":"#ff1f1f"},
   "encoding":{"text":{"field":"txt"}}}
 ]},
{"width":254,"height":108,"title":{"text":"S7 [BANDGAP OUTPUT]","offset":-17},
 "encoding":{
   "x":{"field":"t","type":"quantitative","scale":{"domain":[0,300],"nice":false},"axis":{"title":"time [ns]","values":[0,20,40,60,80,100,120,140,160,180,200,220,240,260,280,300],"labelExpr":"datum.value % 100 === 0 ? datum.label : ''","gridColor":{"condition":{"test":"datum.value % 100 === 0","value":"#a8a8a8"},"value":"#d6d6d6"},"ticks":false,"labelPadding":6,"titlePadding":0,"domainColor":"#303030"}},
   "y":{"field":"v","type":"quantitative","scale":{"domain":[1.2,1.35],"nice":false,"zero":false},"axis":{"title":"Amplitude [V]","titleFontSize":11,"values":[1.2,1.21,1.22,1.23,1.24,1.25,1.26,1.27,1.28,1.29,1.3,1.31,1.32,1.33,1.34,1.35],"format":"~g","labelExpr":"indexof([1.2,1.25,1.3,1.35], datum.value) >= 0 ? replace(datum.label,'.',',') : ''","tickOpacity":{"condition":{"test":"indexof([1.2,1.25,1.3,1.35], datum.value) >= 0","value":1},"value":0},"gridColor":{"condition":{"test":"indexof([1.2,1.3], datum.value) >= 0","value":"#000000"},"value":"#cfcfcf"}}}
 },
 "layer":[
  {"data":{"name":"p6"},"mark":{"type":"line","strokeWidth":2.5,"interpolate":"monotone"},
   "encoding":{"color":{"field":"s","type":"nominal","scale":{"domain":["32,87"],"range":["#16168a"]},"legend":{"title":null,"labelExpr":"'S7  [PFOR=' + datum.label + 'dBm]'","orient":"none","legendX":105,"legendY":-24}}}},
  {"data":{"values":[{"t":4,"t2":296,"v":1.2812}]},"mark":{"type":"rule","color":"#ff1f1f","strokeWidth":3,"strokeDash":[3,3]},
   "encoding":{"x2":{"field":"t2"}}},
  {"data":{"values":[{"t":158,"v":1.2471,"txt":"Mean"},{"t":158,"v":1.2135,"txt":"≈1.28V"}]},"mark":{"type":"text","align":"center","baseline":"middle","font":"Liberation Sans","fontWeight":"bold","fontSize":20,"color":"#ff1f1f"},
   "encoding":{"text":{"field":"txt"}}}
 ]},
{"width":245,"height":120,"title":{"text":"S8 [BANDGAP VDD]","offset":-18},
 "layer":[{"data":{"name":"p7"},"mark":{"type":"line","strokeWidth":2.5},
  "encoding":{
   "x":{"field":"t","type":"quantitative","scale":{"domain":[0,300],"nice":false},"axis":{"title":"time [ns]","values":[0,20,40,60,80,100,120,140,160,180,200,220,240,260,280,300],"labelExpr":"datum.value % 100 === 0 ? datum.label : ''","gridColor":{"condition":{"test":"datum.value % 100 === 0","value":"#a8a8a8"},"value":"#d6d6d6"},"ticks":false,"labelPadding":6,"titlePadding":-9,"domainColor":"#303030"}},
   "y":{"field":"v","type":"quantitative","scale":{"domain":[3.27,3.3],"nice":false,"zero":false},"axis":{"title":"Amplitude [V]","values":[3.27,3.272,3.274,3.276,3.278,3.28,3.282,3.284,3.286,3.288,3.29,3.292,3.294,3.296,3.298,3.3],"format":"~g","labelExpr":"indexof([3.27,3.28,3.29,3.3], datum.value) >= 0 ? replace(datum.label,'.',',') : ''","tickOpacity":{"condition":{"test":"indexof([3.27,3.28,3.29,3.3], datum.value) >= 0","value":1},"value":0},"gridColor":{"condition":{"test":"indexof([3.27,3.28,3.29], datum.value) >= 0","value":"#000000"},"value":"#cfcfcf"}}},
   "color":{"field":"s","type":"nominal","scale":{"domain":["27,77","17,77","7,97"],"range":["#ff7518","#33f3f3","#7b1a88"]},"legend":{"title":null,"labelExpr":"'S8  [PFOR=' + datum.label + 'dBm]'","orient":"none","legendX":99,"legendY":-23}}
  }}]},
{"width":254,"height":120,"title":{"text":"S8 [BANDGAP VDD]","offset":-18},
 "layer":[{"data":{"name":"p8"},"mark":{"type":"line","strokeWidth":2.5,"interpolate":"monotone"},
  "encoding":{
   "x":{"field":"t","type":"quantitative","scale":{"domain":[0,300],"nice":false},"axis":{"title":"time [ns]","values":[0,20,40,60,80,100,120,140,160,180,200,220,240,260,280,300],"labelExpr":"datum.value % 100 === 0 ? datum.label : ''","gridColor":{"condition":{"test":"datum.value % 100 === 0","value":"#a8a8a8"},"value":"#d6d6d6"},"ticks":false,"labelPadding":6,"titlePadding":-9,"domainColor":"#303030"}},
   "y":{"field":"v","type":"quantitative","scale":{"domain":[3.35,3.5],"nice":false,"zero":false},"axis":{"title":"Amplitude [V]","titleFontSize":11,"values":[3.35,3.36,3.37,3.38,3.39,3.4,3.41,3.42,3.43,3.44,3.45,3.46,3.47,3.48,3.49,3.5],"format":"~g","labelExpr":"indexof([3.35,3.4,3.45,3.5], datum.value) >= 0 ? replace(datum.label,'.',',') : ''","tickOpacity":{"condition":{"test":"indexof([3.35,3.4,3.45,3.5], datum.value) >= 0","value":1},"value":0},"gridColor":{"condition":{"test":"indexof([3.35,3.4,3.45], datum.value) >= 0","value":"#000000"},"value":"#cfcfcf"}}},
   "color":{"field":"s","type":"nominal","scale":{"domain":["32,87"],"range":["#16168a"]},"legend":{"title":null,"labelExpr":"'S8  [PFOR=' + datum.label + 'dBm]'","orient":"none","legendX":105,"legendY":-23}}
  }}]}
]
}
